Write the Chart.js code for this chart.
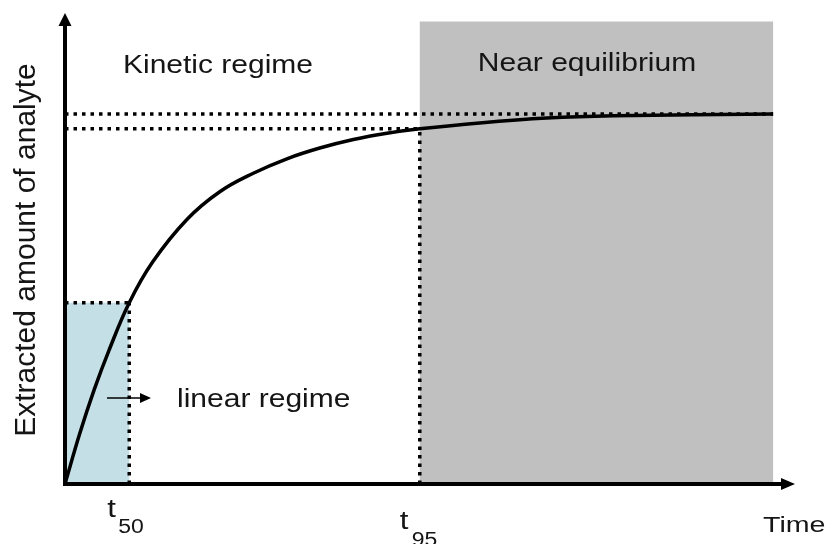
<!DOCTYPE html>
<html lang="en">
<head>
  <meta charset="UTF-8" />
  <title>Extraction time profile</title>
  <script src="https://cdn.jsdelivr.net/npm/chart.js"></script>
  <style>
    * { box-sizing: border-box; margin: 0; padding: 0; }
    body { background: #fff; }
    canvas { display: block; }
  </style>
</head>
<body>
  <canvas id="profile" width="833" height="544"></canvas>

  <script>
    // time (arbitrary units, 0..100) and extracted fraction
    const times   = [0, 2, 4, 6, 8.8, 12, 16.7, 21.2, 25.8, 30.4, 34.9, 39.5, 44.1, 48.6, 56.8, 66, 75.1, 97];
    const amounts = [0, 0.135, 0.255, 0.36, 0.49, 0.6, 0.715, 0.79, 0.84, 0.879, 0.908, 0.931, 0.948, 0.96, 0.976, 0.989, 0.995, 1.0];

    // marked points
    const t50 = 8.8, c50 = 0.49;
    const t95 = 48.6, c95 = 0.96;
    const tEnd = 97, cEq = 1.0, cTop = 1.25;

    const FONT = '"Liberation Sans", Arial, sans-serif';
    const INK = '#151515';

    function stretchText(ctx, text, x, y, size, sx, align) {
      ctx.save();
      ctx.font = size + 'px ' + FONT;
      ctx.translate(x, y);
      ctx.scale(sx, 1);
      ctx.textAlign = align || 'left';
      ctx.textBaseline = 'alphabetic';
      ctx.fillText(text, 0, 0);
      ctx.restore();
    }

    function seg(ctx, x1, y1, x2, y2) {
      ctx.beginPath();
      ctx.moveTo(x1, y1);
      ctx.lineTo(x2, y2);
      ctx.stroke();
    }

    const regionsPlugin = {
      id: 'regions',
      beforeDatasetsDraw(chart) {
        const { ctx, scales: { x, y } } = chart;
        ctx.save();
        // near equilibrium zone
        ctx.fillStyle = '#c0c0c0';
        ctx.fillRect(x.getPixelForValue(t95), y.getPixelForValue(cTop),
          x.getPixelForValue(tEnd) - x.getPixelForValue(t95),
          y.getPixelForValue(0) - y.getPixelForValue(cTop));
        // linear zone
        ctx.fillStyle = '#c4dfe5';
        ctx.fillRect(x.getPixelForValue(0), y.getPixelForValue(c50),
          x.getPixelForValue(t50) - x.getPixelForValue(0),
          y.getPixelForValue(0) - y.getPixelForValue(c50));

        // dotted guides
        ctx.strokeStyle = '#000';
        ctx.lineWidth = 3.5;
        ctx.setLineDash([3.5, 5]);
        const x0 = x.getPixelForValue(0), y0 = y.getPixelForValue(0);
        seg(ctx, x0, y.getPixelForValue(cEq), x.getPixelForValue(tEnd), y.getPixelForValue(cEq));
        seg(ctx, x0, y.getPixelForValue(c95), x.getPixelForValue(t95), y.getPixelForValue(c95));
        seg(ctx, x.getPixelForValue(t95), y0, x.getPixelForValue(t95), y.getPixelForValue(c95));
        seg(ctx, x0, y.getPixelForValue(c50), x.getPixelForValue(t50), y.getPixelForValue(c50));
        seg(ctx, x.getPixelForValue(t50), y0, x.getPixelForValue(t50), y.getPixelForValue(c50));
        ctx.restore();
      },
      afterDatasetsDraw(chart) {
        const { ctx, chartArea: a, scales: { x, y } } = chart;
        const x0 = x.getPixelForValue(0), y0 = y.getPixelForValue(0);
        ctx.save();
        ctx.strokeStyle = '#000';
        ctx.fillStyle = '#000';
        ctx.lineWidth = 4;
        ctx.setLineDash([]);
        // y axis with arrow
        seg(ctx, x0, y0 + 2, x0, a.top + 10);
        ctx.beginPath();
        ctx.moveTo(x0, a.top);
        ctx.lineTo(x0 - 6.5, a.top + 13);
        ctx.lineTo(x0 + 6.5, a.top + 13);
        ctx.closePath();
        ctx.fill();
        // x axis with arrow
        seg(ctx, x0 - 2, y0, a.right - 10, y0);
        ctx.beginPath();
        ctx.moveTo(a.right, y0);
        ctx.lineTo(a.right - 14, y0 - 6);
        ctx.lineTo(a.right - 14, y0 + 6);
        ctx.closePath();
        ctx.fill();

        // small arrow into the linear zone
        ctx.lineWidth = 1.5;
        seg(ctx, 107, 398, 144, 398);
        ctx.beginPath();
        ctx.moveTo(151, 398);
        ctx.lineTo(140, 393);
        ctx.lineTo(140, 403);
        ctx.closePath();
        ctx.fill();

        // texts
        ctx.fillStyle = INK;
        stretchText(ctx, 'Kinetic regime', 218, 73, 25, 1.2, 'center');
        stretchText(ctx, 'Near equilibrium', 587, 71, 25, 1.2, 'center');
        stretchText(ctx, 'linear regime', 177, 407, 25, 1.2, 'left');
        stretchText(ctx, 'Time', 763, 532, 22, 1.3, 'left');

        stretchText(ctx, 't', x.getPixelForValue(t50) - 22, 517, 26, 1.2, 'left');
        stretchText(ctx, '50', x.getPixelForValue(t50) - 11, 533, 20, 1.15, 'left');
        stretchText(ctx, 't', x.getPixelForValue(t95) - 20, 529, 26, 1.2, 'left');
        stretchText(ctx, '95', x.getPixelForValue(t95) - 8, 546, 20, 1.15, 'left');

        ctx.save();
        ctx.font = '30px ' + FONT;
        ctx.translate(35, 250);
        ctx.rotate(-Math.PI / 2);
        ctx.textAlign = 'center';
        ctx.fillText('Extracted amount of analyte', 0, 0);
        ctx.restore();
        ctx.restore();
      }
    };

    new Chart(document.getElementById('profile').getContext('2d'), {
      type: 'line',
      data: {
        datasets: [{
          data: times.map((t, i) => ({ x: t, y: amounts[i] })),
          borderColor: '#000',
          borderWidth: 3.5,
          pointRadius: 0,
          fill: false,
          tension: 0.4
        }]
      },
      options: {
        responsive: false,
        animation: false,
        layout: { padding: { left: 65, right: 38, top: 13, bottom: 60 } },
        plugins: {
          legend: { display: false },
          tooltip: { enabled: false }
        },
        scales: {
          x: { type: 'linear', min: 0, max: 100, display: false },
          y: { min: 0, max: 1.273, display: false }
        }
      },
      plugins: [regionsPlugin]
    });
  </script>
</body>
</html>
